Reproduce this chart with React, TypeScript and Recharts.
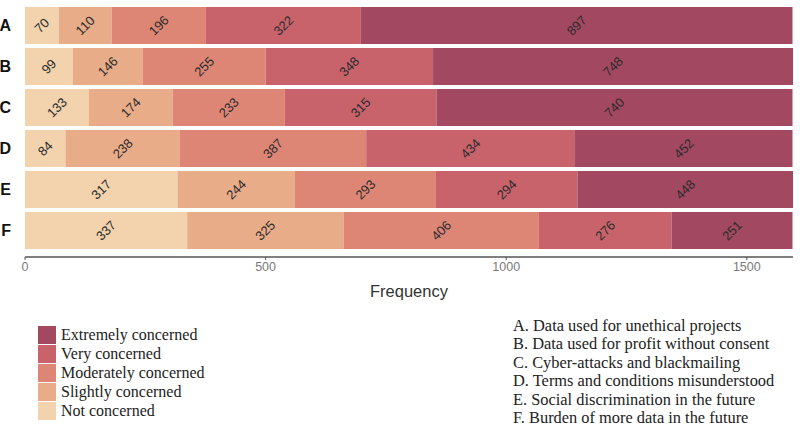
import { BarChart, Bar, XAxis, YAxis, LabelList } from 'recharts';

const categories = ['A', 'B', 'C', 'D', 'E', 'F'];
const notConcerned = [70, 99, 133, 84, 317, 337];
const slightlyConcerned = [110, 146, 174, 238, 244, 325];
const moderatelyConcerned = [196, 255, 233, 387, 293, 406];
const veryConcerned = [322, 348, 315, 434, 294, 276];
const extremelyConcerned = [897, 748, 740, 452, 448, 251];
const xTicks = [0, 500, 1000, 1500];

const levels = [
  { key: 'not', name: 'Not concerned', values: notConcerned, color: '#F2D3AE' },
  { key: 'slightly', name: 'Slightly concerned', values: slightlyConcerned, color: '#E9AC88' },
  { key: 'moderately', name: 'Moderately concerned', values: moderatelyConcerned, color: '#DE8676' },
  { key: 'very', name: 'Very concerned', values: veryConcerned, color: '#C8636B' },
  { key: 'extremely', name: 'Extremely concerned', values: extremelyConcerned, color: '#A34861' },
];

const questions = [
  'A. Data used for unethical projects',
  'B. Data used for profit without consent',
  'C. Cyber-attacks and blackmailing',
  'D. Terms and conditions misunderstood',
  'E. Social discrimination in the future',
  'F. Burden of more data in the future',
];

const data = categories.map((cat, i) => {
  const row: Record<string, string | number> = { cat };
  levels.forEach((l) => {
    row[l.key] = l.values[i];
  });
  return row;
});

// rotated value label centred in each segment
const SegmentLabel = (props: any) => {
  const { x, y, width, height, value } = props;
  const cx = Number(x) + Number(width) / 2;
  const cy = Number(y) + Number(height) / 2;
  return (
    <text
      x={cx}
      y={cy}
      transform={`rotate(-45, ${cx}, ${cy})`}
      textAnchor="middle"
      dominantBaseline="central"
      fontSize={13}
      fill="#2b2b2b"
    >
      {value}
    </text>
  );
};

const serif = '"Liberation Serif", "Times New Roman", serif';

export default function App() {
  return (
    <div
      style={{
        position: 'absolute',
        left: 0,
        top: 0,
        width: 800,
        height: 427,
        background: '#fff',
        fontFamily: '"Liberation Sans", Arial, sans-serif',
      }}
    >
      <BarChart
        width={800}
        height={305}
        data={data}
        layout="vertical"
        margin={{ top: 5, right: 7, left: 0, bottom: 0 }}
        barCategoryGap={2}
      >
        <XAxis
          type="number"
          domain={[0, 1596]}
          ticks={xTicks}
          tick={{ fontSize: 12.5, fill: '#7a7a7a' }}
          tickLine={{ stroke: '#555' }}
          tickSize={3}
          axisLine={{ stroke: '#555', strokeWidth: 1.5 }}
          height={48}
          label={{
            value: 'Frequency',
            position: 'insideBottom',
            offset: 8,
            fontSize: 16.5,
            fill: '#333',
          }}
        />
        <YAxis
          type="category"
          dataKey="cat"
          width={25}
          axisLine={false}
          tickLine={false}
          tickMargin={8}
          padding={{ top: 0, bottom: 6 }}
          tick={{ fontSize: 16, fontWeight: 'bold', fill: '#111' }}
        />
        {levels.map((l) => (
          <Bar
            key={l.key}
            dataKey={l.key}
            stackId="a"
            fill={l.color}
            isAnimationActive={false}
          >
            <LabelList dataKey={l.key} content={SegmentLabel} />
          </Bar>
        ))}
      </BarChart>

      <div style={{ position: 'absolute', left: 38, top: 325, fontFamily: serif }}>
        {[...levels].reverse().map((l) => (
          <div key={l.key} style={{ display: 'flex', alignItems: 'center', height: 19 }}>
            <div style={{ width: 18, height: 18, background: l.color, marginRight: 5 }} />
            <span style={{ fontSize: 16, color: '#222', lineHeight: '19px' }}>{l.name}</span>
          </div>
        ))}
      </div>

      <div style={{ position: 'absolute', left: 513, top: 317, fontFamily: serif }}>
        {questions.map((q) => (
          <div key={q} style={{ fontSize: 16.4, lineHeight: '18.4px', color: '#222', whiteSpace: 'nowrap' }}>
            {q}
          </div>
        ))}
      </div>
    </div>
  );
}
